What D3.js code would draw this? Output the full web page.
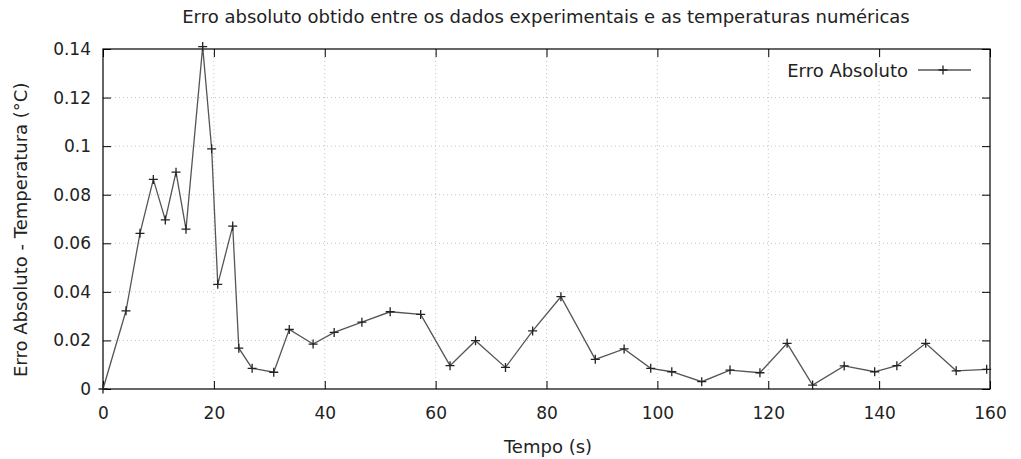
<!DOCTYPE html>
<html>
<head>
<meta charset="utf-8">
<script src="https://cdn.jsdelivr.net/npm/d3@7"></script>
<style>
  body { margin: 0; background: #fff; }
  svg text { font-family: "DejaVu Sans", sans-serif; fill: #222; }
</style>
</head>
<body>
<div id="chart"></div>
<script>
// time (s)
var tempo = [0, 4.15, 6.67, 9.08, 11.24, 13.17, 14.97, 17.98, 19.6, 20.7, 23.4, 24.5, 26.9, 30.8,
  33.6, 37.9, 41.7, 46.7, 51.8, 57.3, 62.6, 67.2, 72.6, 77.5, 82.6, 88.8, 94.0,
  98.8, 102.6, 108.0, 113.1, 118.5, 123.4, 128.0, 133.7, 139.2, 143.2, 148.4, 153.9, 159.4];
// absolute error (°C)
var erro = [0, 0.0322, 0.0641, 0.0863, 0.0696, 0.0893, 0.0658, 0.141, 0.0989, 0.0431, 0.0671, 0.0168, 0.0085, 0.0069,
  0.0245, 0.0185, 0.0233, 0.0275, 0.0318, 0.0307, 0.0096, 0.0199, 0.0089, 0.0239, 0.0380, 0.0122, 0.0165,
  0.0085, 0.0071, 0.0030, 0.0078, 0.0067, 0.0188, 0.0016, 0.0095, 0.0071, 0.0096, 0.0188, 0.0075, 0.0081];
var xTicks = [0, 20, 40, 60, 80, 100, 120, 140, 160];
var yTicks = [0, 0.02, 0.04, 0.06, 0.08, 0.1, 0.12, 0.14];

var W = 1021, H = 459;
var margin = { top: 49, right: 31, bottom: 70, left: 103 },
    width = W - margin.left - margin.right,
    height = H - margin.top - margin.bottom;

var svg = d3.select("#chart").append("svg")
    .attr("width", W)
    .attr("height", H);

var g = svg.append("g")
    .attr("transform", "translate(" + margin.left + "," + margin.top + ")");

var x = d3.scaleLinear().domain([0, 160]).range([0, width]);
var y = d3.scaleLinear().domain([0, 0.14]).range([height, 0]);

// grid (dotted)
g.selectAll(".gx").data(xTicks.slice(1, -1)).enter().append("line")
    .attr("x1", function(d) { return x(d); }).attr("x2", function(d) { return x(d); })
    .attr("y1", 0).attr("y2", height)
    .attr("stroke", "#c4c4c4").attr("stroke-width", 1).attr("stroke-dasharray", "1,3");
g.selectAll(".gy").data(yTicks.slice(1, -1)).enter().append("line")
    .attr("y1", function(d) { return y(d); }).attr("y2", function(d) { return y(d); })
    .attr("x1", 0).attr("x2", width)
    .attr("stroke", "#c4c4c4").attr("stroke-width", 1).attr("stroke-dasharray", "1,3");

// axes with mirrored inner ticks
var tk = 8;
g.append("g").attr("transform", "translate(0," + height + ")")
    .call(d3.axisBottom(x).tickValues(xTicks).tickSizeInner(-tk).tickSizeOuter(0).tickPadding(18))
    .call(function(a) { a.select(".domain").remove(); })
    .selectAll("text").style("font-size", "17px");
g.append("g")
    .call(d3.axisTop(x).tickValues(xTicks).tickSizeInner(-tk).tickSizeOuter(0).tickFormat(""))
    .call(function(a) { a.select(".domain").remove(); });
g.append("g")
    .call(d3.axisLeft(y).tickValues(yTicks).tickSizeInner(-tk).tickSizeOuter(0).tickPadding(12)
      .tickFormat(function(d) { return d === 0 ? "0" : d3.format("")(+d.toFixed(2)); }))
    .call(function(a) { a.select(".domain").remove(); })
    .selectAll("text").style("font-size", "17px");
g.append("g").attr("transform", "translate(" + width + ",0)")
    .call(d3.axisRight(y).tickValues(yTicks).tickSizeInner(-tk).tickSizeOuter(0).tickFormat(""))
    .call(function(a) { a.select(".domain").remove(); });
g.selectAll(".tick line").attr("stroke", "#000");

g.append("rect").attr("width", width).attr("height", height)
    .attr("fill", "none").attr("stroke", "#000").attr("stroke-width", 1.2);

// series
var pts = tempo.map(function(t, i) { return [t, erro[i]]; });
var line = d3.line().x(function(d) { return x(d[0]); }).y(function(d) { return y(d[1]); });
g.append("path").datum(pts).attr("d", line)
    .attr("fill", "none").attr("stroke", "#555").attr("stroke-width", 1.3);
var s = 4.5;
g.selectAll(".pt").data(pts).enter().append("path")
    .attr("d", function(d) {
      var px = x(d[0]), py = y(d[1]);
      return "M" + (px - s) + "," + py + "H" + (px + s) + "M" + px + "," + (py - s) + "V" + (py + s);
    })
    .attr("stroke", "#222").attr("stroke-width", 1.3);

// legend
var lg = svg.append("g").attr("transform", "translate(971,70)");
lg.append("text").attr("x", -63).attr("y", 7).attr("text-anchor", "end")
    .style("font-size", "18px").text("Erro Absoluto");
lg.append("line").attr("x1", -53).attr("x2", 0).attr("stroke", "#555").attr("stroke-width", 1.3);
lg.append("path").attr("d", "M" + (-28 - s) + ",0H" + (-28 + s) + "M-28," + (-s) + "V" + s)
    .attr("stroke", "#222").attr("stroke-width", 1.3);

// titles
svg.append("text").attr("x", 546).attr("y", 23).attr("text-anchor", "middle")
    .style("font-size", "18px").text("Erro absoluto obtido entre os dados experimentais e as temperaturas numéricas");
svg.append("text").attr("x", 548).attr("y", 453).attr("text-anchor", "middle")
    .style("font-size", "18px").text("Tempo (s)");
svg.append("text").attr("transform", "translate(27,377) rotate(-90)").attr("text-anchor", "start")
    .style("font-size", "18px").text("Erro Absoluto - Temperatura (°C)");
</script>
</body>
</html>
